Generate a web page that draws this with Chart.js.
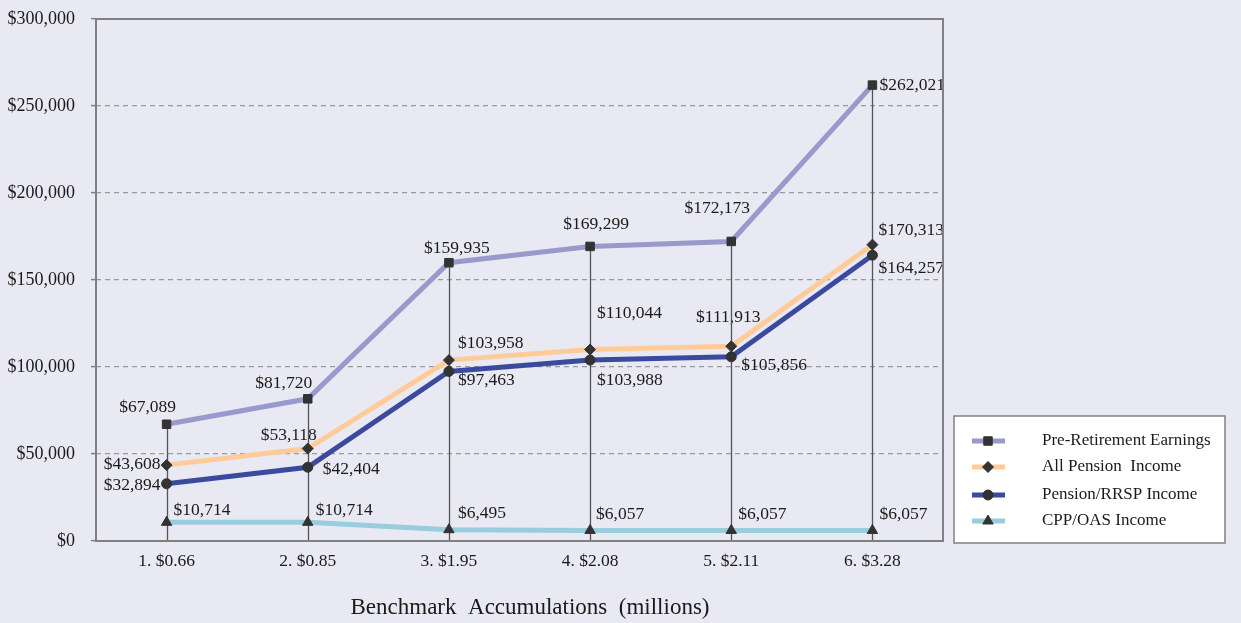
<!DOCTYPE html>
<html>
<head>
<meta charset="utf-8">
<script src="https://cdn.jsdelivr.net/npm/chart.js@4.4.1/dist/chart.umd.min.js"></script>
<style>
  html, body { margin: 0; padding: 0; background: #e9e9f3; }
  canvas { display: block; }
</style>
</head>
<body>
<canvas id="benchmarkChart" width="1241" height="623"></canvas>
<script>
// Chart data
const categories = ['1. $0.66', '2. $0.85', '3. $1.95', '4. $2.08', '5. $2.11', '6. $3.28'];
const preRetirement = [67089, 81720, 159935, 169299, 172173, 262021];
const allPension = [43608, 53118, 103958, 110044, 111913, 170313];
const pensionRrsp = [32894, 42404, 97463, 103988, 105856, 164257];
const cppOas = [10714, 10714, 6495, 6057, 6057, 6057];
const yTicks = [0, 50000, 100000, 150000, 200000, 250000, 300000];

const FONT = '"Liberation Serif", "DejaVu Serif", serif';
const BG = '#e9e9f3';
const MARKER = '#333333';

// label placement per point: [dx, dy, align]
const labelPos = [
  [[-19, -17, 'center'], [-24, -15, 'center'], [8, -14, 'center'], [6, -22, 'center'], [-14, -33, 'center'], [7, 0, 'left']],
  [[-6, -1, 'right'], [-19, -13, 'center'], [9, -17, 'left'], [7, -36, 'left'], [-3, -29, 'center'], [6, -14, 'left']],
  [[-6, 2, 'right'], [15, 2, 'left'], [9, 9, 'left'], [7, 20, 'left'], [10, 9, 'left'], [6, 13, 'left']],
  [[7, -12, 'left'], [8, -12, 'left'], [9, -16, 'left'], [6, -16, 'left'], [7, -16, 'left'], [7, -16, 'left']]
];

function money(v) {
  return '$' + Number(v).toLocaleString('en-US');
}

function makeSeries(label, data, color, style, radius) {
  return {
    label: label,
    data: data,
    borderColor: color,
    backgroundColor: color,
    borderWidth: 5,
    pointStyle: style,
    pointRadius: radius,
    pointHoverRadius: radius,
    pointBackgroundColor: MARKER,
    pointBorderColor: MARKER,
    pointBorderWidth: 1,
    tension: 0
  };
}

// Point labels, drop lines, plot frame, legend and axis title
const decorPlugin = {
  id: 'decor',
  beforeDatasetsDraw(chart) {
    const ctx = chart.ctx;
    const area = chart.chartArea;
    const x = chart.scales.x;
    const y = chart.scales.y;
    ctx.save();
    ctx.font = '17.5px ' + FONT;
    ctx.fillStyle = '#1a1a1a';
    ctx.textBaseline = 'middle';
    chart.data.datasets.forEach((ds, d) => {
      const meta = chart.getDatasetMeta(d);
      meta.data.forEach((pt, i) => {
        const p = labelPos[d][i];
        ctx.textAlign = p[2];
        ctx.fillText(money(ds.data[i]), pt.x + p[0], pt.y + p[1]);
      });
    });
    // drop lines from the highest point of each category
    ctx.strokeStyle = '#555555';
    ctx.lineWidth = 1.3;
    categories.forEach((c, i) => {
      const top = Math.max(...chart.data.datasets.map(ds => ds.data[i]));
      const px = Math.round(x.getPixelForValue(i)) + 0.5;
      ctx.beginPath();
      ctx.moveTo(px, y.getPixelForValue(top));
      ctx.lineTo(px, area.bottom);
      ctx.stroke();
    });
    ctx.restore();
  },
  afterDraw(chart) {
    const ctx = chart.ctx;
    const area = chart.chartArea;
    ctx.save();
    // plot frame
    ctx.strokeStyle = '#808080';
    ctx.lineWidth = 2;
    ctx.strokeRect(area.left, area.top, area.right - area.left, area.bottom - area.top);

    // axis title
    ctx.fillStyle = '#1a1a1a';
    ctx.font = '23px ' + FONT;
    ctx.textAlign = 'center';
    ctx.textBaseline = 'middle';
    ctx.fillText('Benchmark  Accumulations  (millions)', 530, 608);

    // legend box
    ctx.fillStyle = '#ffffff';
    ctx.fillRect(954, 416, 271, 127);
    ctx.strokeStyle = '#808080';
    ctx.lineWidth = 1.5;
    ctx.strokeRect(954, 416, 271, 127);
    const rows = [441, 467, 495, 521];
    chart.data.datasets.forEach((ds, d) => {
      const ry = rows[d];
      ctx.strokeStyle = ds.borderColor;
      ctx.lineWidth = 5;
      ctx.beginPath();
      ctx.moveTo(972, ry);
      ctx.lineTo(1005, ry);
      ctx.stroke();
      ctx.fillStyle = MARKER;
      ctx.strokeStyle = MARKER;
      ctx.lineWidth = 1;
      Chart.helpers.drawPoint(ctx, { pointStyle: ds.pointStyle, radius: ds.pointRadius, rotation: 0, borderWidth: 1 }, 988, ry);
      ctx.fillStyle = '#1a1a1a';
      ctx.font = '17px ' + FONT;
      ctx.textAlign = 'left';
      ctx.textBaseline = 'middle';
      ctx.fillText(ds.label, 1042, ry);
    });
    ctx.restore();
  }
};

const bgPlugin = {
  id: 'bg',
  beforeDraw(chart) {
    const ctx = chart.ctx;
    ctx.save();
    ctx.fillStyle = BG;
    ctx.fillRect(0, 0, chart.width, chart.height);
    ctx.restore();
  }
};

const chart = new Chart(document.getElementById('benchmarkChart'), {
  type: 'line',
  data: {
    labels: categories,
    datasets: [
      makeSeries('Pre-Retirement Earnings', preRetirement, '#9999cc', 'rect', 6),
      makeSeries('All Pension  Income', allPension, '#ffcc99', 'rectRot', 5.5),
      makeSeries('Pension/RRSP Income', pensionRrsp, '#3a4a9e', 'circle', 5),
      makeSeries('CPP/OAS Income', cppOas, '#99ccdd', 'triangle', 6)
    ]
  },
  options: {
    responsive: false,
    animation: false,
    layout: { padding: { top: 19, right: 298, bottom: 0, left: 0 } },
    plugins: {
      legend: { display: false },
      tooltip: { enabled: false }
    },
    scales: {
      x: {
        type: 'category',
        offset: true,
        grid: { display: false },
        border: { display: false },
        ticks: {
          color: '#1a1a1a',
          font: { family: FONT, size: 17.5 },
          padding: 2,
          maxRotation: 0
        },
        afterFit(scale) { scale.height = 82; }
      },
      y: {
        min: 0,
        max: 300000,
        afterBuildTicks(scale) { scale.ticks = yTicks.map(v => ({ value: v })); },
        ticks: {
          color: '#1a1a1a',
          font: { family: FONT, size: 18 },
          padding: 16,
          callback: v => money(v)
        },
        grid: {
          color: '#9a9a9a',
          lineWidth: 1.2,
          tickLength: 5,
          tickColor: '#808080',
          tickWidth: 1.5
        },
        border: { display: false, dash: [5, 4] },
        afterFit(scale) {
          scale.width = 96;
          scale.paddingTop = 0;
          scale.paddingBottom = 0;
        }
      }
    }
  },
  plugins: [bgPlugin, decorPlugin]
});
</script>
</body>
</html>
